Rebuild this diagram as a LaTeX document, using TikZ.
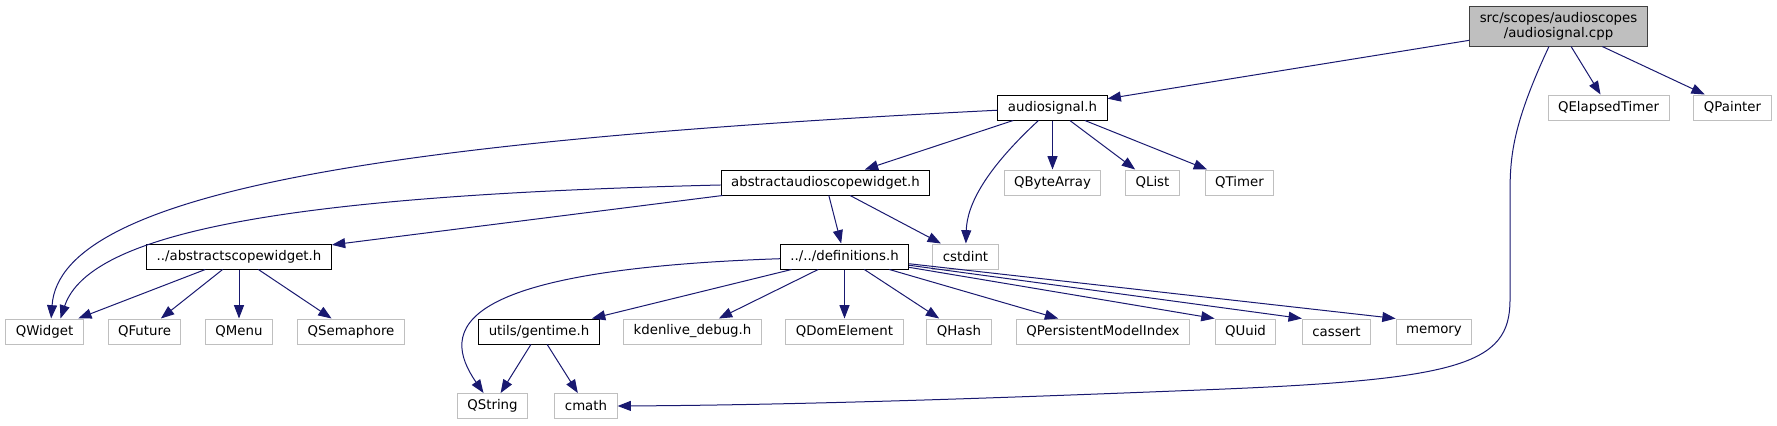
\documentclass[tikz,border=0pt]{standalone}
\usepackage{fontspec}
\setmainfont{DejaVu Sans}
\usetikzlibrary{arrows.meta}

\definecolor{edgeblue}{HTML}{191970}
\definecolor{boxgrey}{HTML}{BFBFBF}
\definecolor{boxdark}{HTML}{404040}

\tikzset{
    filebox/.style={draw=black, fill=white, line width=0.75pt, inner xsep=7.5pt, inner ysep=0pt,
        minimum height=18.75pt, font=\fontsize{10}{11.5}\selectfont},
    sysbox/.style={filebox, draw=boxgrey},
    mainbox/.style={filebox, draw=boxdark, fill=boxgrey, align=center, minimum height=30pt},
    dep/.style={draw=edgeblue, line width=0.75pt, -{Triangle[length=10pt, width=7.5pt]}}
}

\begin{document}
\begin{tikzpicture}[x=0.75pt, y=-0.75pt]

            \useasboundingbox (0,0) rectangle (1777,425);

            %----- TOP FILE -----
            \node[mainbox] (cpp) at (1558.5,26) {src/scopes/audioscopes\\/audiosignal.cpp};

            %----- FIRST LEVEL -----
            \node[filebox] (asig) at (1052.5,107.5) {audiosignal.h};
            \node[sysbox] (qelapsed) at (1608.5,107.5) {QElapsedTimer};
            \node[sysbox] (qpainter) at (1732.5,107.5) {QPainter};

            %----- SECOND LEVEL -----
            \node[filebox] (aasw) at (825.5,182.5) {abstractaudioscopewidget.h};
            \node[sysbox] (qbytearray) at (1052.5,182.5) {QByteArray};
            \node[sysbox] (qlist) at (1152.5,182.5) {QList};
            \node[sysbox] (qtimer) at (1239.5,182.5) {QTimer};

            %----- THIRD LEVEL -----
            \node[filebox] (asw) at (239,256.5) {../abstractscopewidget.h};
            \node[filebox] (defs) at (844.5,256.5) {../../definitions.h};
            \node[sysbox] (cstdint) at (965.5,256.5) {cstdint};

            %----- FOURTH LEVEL -----
            \node[sysbox] (qwidget) at (44.5,331.5) {QWidget};
            \node[sysbox] (qfuture) at (144.5,331.5) {QFuture};
            \node[sysbox] (qmenu) at (239,331.5) {QMenu};
            \node[sysbox] (qsemaphore) at (351,331.5) {QSemaphore};
            \node[filebox] (gentime) at (539,331.5) {utils/gentime.h};
            \node[sysbox] (kdebug) at (692.5,331.5) {kdenlive\_debug.h};
            \node[sysbox] (qdom) at (844.5,331.5) {QDomElement};
            \node[sysbox] (qhash) at (959,331.5) {QHash};
            \node[sysbox] (qpmi) at (1103,331.5) {QPersistentModelIndex};
            \node[sysbox] (quuid) at (1245.5,331.5) {QUuid};
            \node[sysbox] (cassert) at (1336.5,331.5) {cassert};
            \node[sysbox] (memory) at (1434,331.5) {memory};

            %----- BOTTOM LEVEL -----
            \node[sysbox] (qstring) at (492.5,406) {QString};
            \node[sysbox] (cmath) at (586,406) {cmath};

            %----- EDGES FROM audiosignal.cpp -----
            \draw[dep] (cpp) -- (asig);
            \draw[dep] (cpp) -- (qelapsed);
            \draw[dep] (cpp) -- (qpainter);
            % long way round to cmath
            \draw[dep] (cpp) .. controls (1510,130) and (1510,160) .. (1510,200) -- (1510,300)
                .. controls (1510,365) and (1460,380) .. (1200,390)
                .. controls (1000,398) and (800,405) .. (cmath.east);

            %----- EDGES FROM audiosignal.h -----
            \draw[dep] (asig) .. controls (400,140) and (60,190) .. ([xshift=5pt]qwidget.north);
            \draw[dep] (asig) -- (aasw);
            \draw[dep] (asig) .. controls (985,170) and (967,205) .. (cstdint);
            \draw[dep] (asig) -- (qbytearray);
            \draw[dep] (asig) -- (qlist);
            \draw[dep] (asig) -- (qtimer);

            %----- EDGES FROM abstractaudioscopewidget.h -----
            \draw[dep] (aasw) .. controls (300,195) and (90,230) .. ([xshift=12pt]qwidget.north);
            \draw[dep] (aasw) -- (asw);
            \draw[dep] (aasw) -- (defs);
            \draw[dep] (aasw) -- (cstdint);

            %----- EDGES FROM ../abstractscopewidget.h -----
            \draw[dep] (asw) -- (qwidget);
            \draw[dep] (asw) -- (qfuture);
            \draw[dep] (asw) -- (qmenu);
            \draw[dep] (asw) -- (qsemaphore);

            %----- EDGES FROM definitions.h -----
            \draw[dep] (defs) .. controls (450,270) and (440,330) .. (qstring);
            \draw[dep] (defs) -- (gentime);
            \draw[dep] (defs) -- (kdebug);
            \draw[dep] (defs) -- (qdom);
            \draw[dep] (defs) -- (qhash);
            \draw[dep] (defs) -- (qpmi);
            % these three land on the top left corners
            \draw[dep] (defs) -- (quuid.north west);
            \draw[dep] (defs) -- (cassert.north west);
            \draw[dep] (defs) -- (memory.north west);

            %----- EDGES FROM gentime.h -----
            \draw[dep] (gentime) -- (qstring);
            \draw[dep] (gentime) -- (cmath);

\end{tikzpicture}
\end{document}
